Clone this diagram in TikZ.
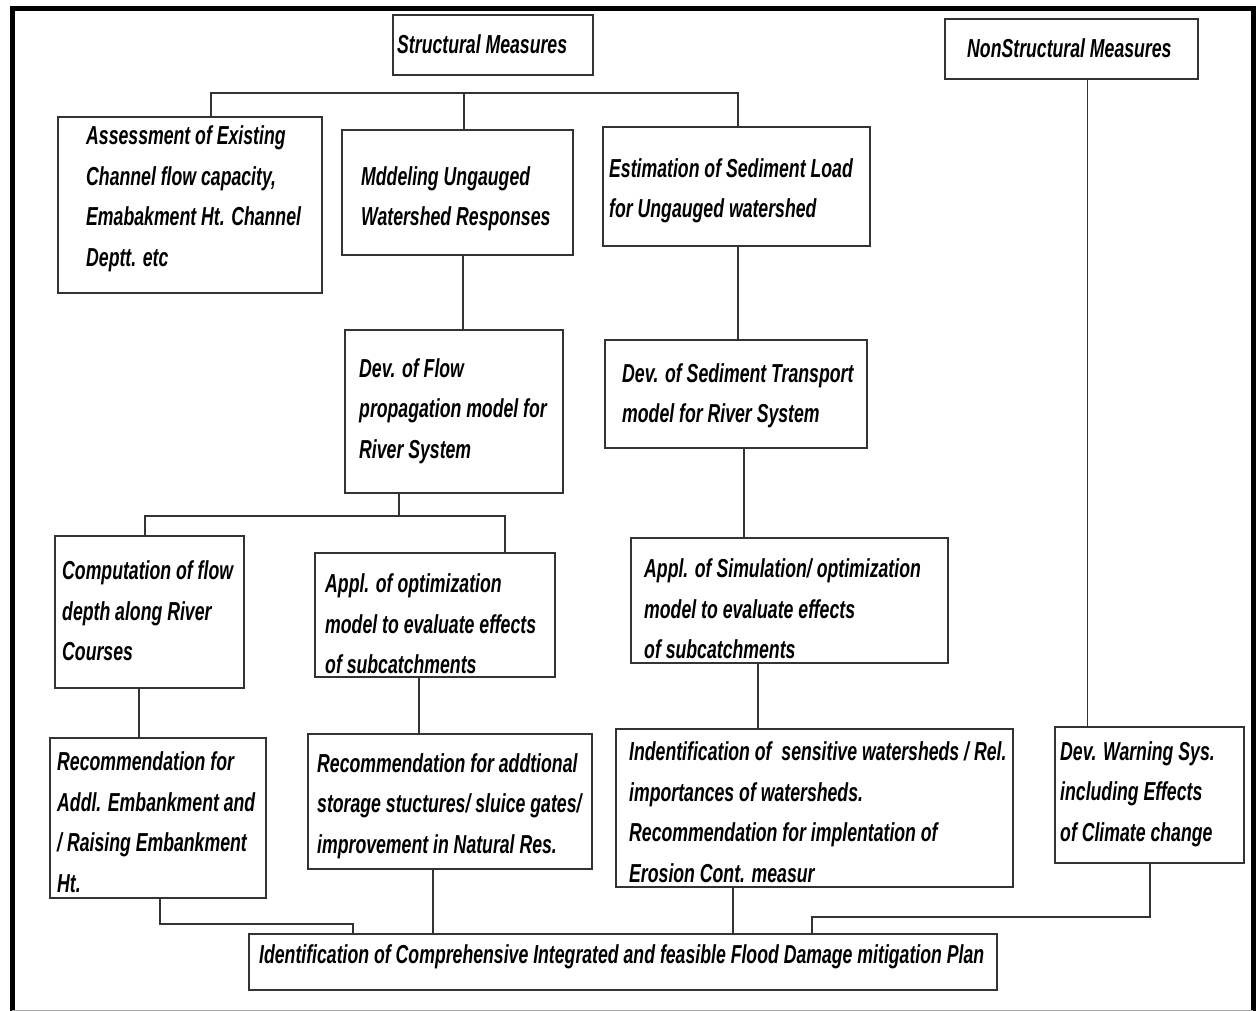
\documentclass[tikz,border=0pt]{standalone}
\usepackage{fontspec}
\setmainfont{Liberation Sans}[FakeStretch=0.68]
\begin{document}
\begin{tikzpicture}[x=1pt,y=-1pt,
  box/.style={draw=black!80, line width=1.8pt, rectangle, inner sep=0pt, outer sep=0pt, anchor=north west},
  txt/.style={inner sep=0pt, anchor=west, align=left, font=\bfseries\itshape\fontsize{26}{40.5}\selectfont},
  conn/.style={draw=black!80, line width=1.6pt}]
\useasboundingbox (0,0) rectangle (1259,1011);
% frame
\draw[line width=5pt, line cap=rect] (1253,1010) -- (1253,9) -- (12,9) -- (12,1010);
\draw[black!35, line width=1pt] (12,1010) -- (1253,1010);
% boxes
\node[box, minimum width=200pt, minimum height=60pt] (sm) at (393,15) {};
\node[box, minimum width=253pt, minimum height=60pt] (ns) at (945,19) {};
\node[box, minimum width=264pt, minimum height=176pt] (as) at (58,117) {};
\node[box, minimum width=231pt, minimum height=125pt] (md) at (342,130) {};
\node[box, minimum width=267pt, minimum height=119pt] (es) at (603,127) {};
\node[box, minimum width=218pt, minimum height=163pt] (df) at (345,330) {};
\node[box, minimum width=262pt, minimum height=108pt] (ds) at (605,340) {};
\node[box, minimum width=189pt, minimum height=152pt] (co) at (55,536) {};
\node[box, minimum width=240pt, minimum height=124pt] (ao) at (315,553) {};
\node[box, minimum width=317pt, minimum height=125pt] (asim) at (631,538) {};
\node[box, minimum width=216pt, minimum height=160pt] (ra) at (50,738) {};
\node[box, minimum width=284pt, minimum height=135pt] (rb) at (308,734) {};
\node[box, minimum width=397pt, minimum height=158pt] (id) at (616,729) {};
\node[box, minimum width=189pt, minimum height=136pt] (dw) at (1055,727) {};
\node[box, minimum width=748pt, minimum height=56pt] (fi) at (249,934) {};
% texts
\node[txt] (tsm) at (397,44) {Structural Measures};
\node[txt] (tns) at (967,48) {NonStructural Measures};
\node[txt] (tas) at (86,199) {Assessment of Existing\\Channel flow capacity,\\Emabakment Ht. Channel\\Deptt. etc};
\node[txt] (tmd) at (361,199) {Mddeling Ungauged\\Watershed Responses};
\node[txt] (tes) at (609,191) {Estimation of Sediment Load\\for Ungauged watershed};
\node[txt] (tdf) at (359,411) {Dev. of Flow\\propagation model for\\River System};
\node[txt] (tds) at (622,396) {Dev. of Sediment Transport\\model for River System};
\node[txt] (tco) at (62,611) {Computation of flow\\depth along River\\Courses};
\node[txt] (tao) at (325,624) {Appl. of optimization\\model to evaluate effects\\of subcatchments};
\node[txt] (tasim) at (644,609) {Appl. of Simulation/ optimization\\model to evaluate effects\\of subcatchments};
\node[txt] (tra) at (57,822) {Recommendation for\\Addl. Embankment and\\/ Raising Embankment\\Ht.};
\node[txt] (trb) at (317,806) {Recommendation for addtional\\storage stuctures/ sluice gates/\\improvement in Natural Res.};
\node[txt] (tid) at (629,812) {Indentification of \ sensitive watersheds / Rel.\\importances of watersheds.\\Recommendation for implentation of\\Erosion Cont. measur};
\node[txt] (tdw) at (1060,794) {Dev. Warning Sys.\\including Effects\\of Climate change};
\node[txt] (tfi) at (259,957) {Identification of Comprehensive Integrated and feasible Flood Damage mitigation Plan};
% connectors
\coordinate (tb) at (464,93);
\draw[conn] ([xshift=153pt]as.north west) |- (tb) -| ([xshift=135pt]es.north west);
\draw[conn] (tb) -- (tb |- md.north);
\draw[conn] ([xshift=5.5pt]md.south) -- ([xshift=5.5pt]md.south |- df.north);
\draw[conn] ([xshift=1.5pt]es.south) -- ([xshift=1.5pt]es.south |- ds.north);
\coordinate (mb) at (399,516);
\draw[conn] ([xshift=-55pt]df.south) -- (mb);
\draw[conn] ([xshift=-4.5pt]co.north) |- (mb) -| ([xshift=70pt]ao.north);
\draw[conn] ([xshift=8pt]ds.south) -- ([xshift=8pt]ds.south |- asim.north);
\draw[conn] ([xshift=-10.5pt]co.south) -- ([xshift=-10.5pt]co.south |- ra.north);
\draw[conn] ([xshift=-16pt]ao.south) -- ([xshift=-16pt]ao.south |- rb.north);
\draw[conn] ([xshift=-31.5pt]asim.south) -- ([xshift=-31.5pt]asim.south |- id.north);
\draw[conn] ([xshift=16pt]ns.south) -- ([xshift=16pt]ns.south |- dw.north);
\draw[conn] ([xshift=2pt]ra.south) -- ++(0,26) -| ([xshift=104pt]fi.north west);
\draw[conn] ([xshift=-17pt]rb.south) -- ([xshift=-17pt]rb.south |- fi.north);
\draw[conn] ([xshift=-81.5pt]id.south) -- ([xshift=-81.5pt]id.south |- fi.north);
\draw[conn] ([xshift=0.5pt]dw.south) -- ++(0,54) -| ([xshift=563pt]fi.north west);
\end{tikzpicture}
\end{document}
